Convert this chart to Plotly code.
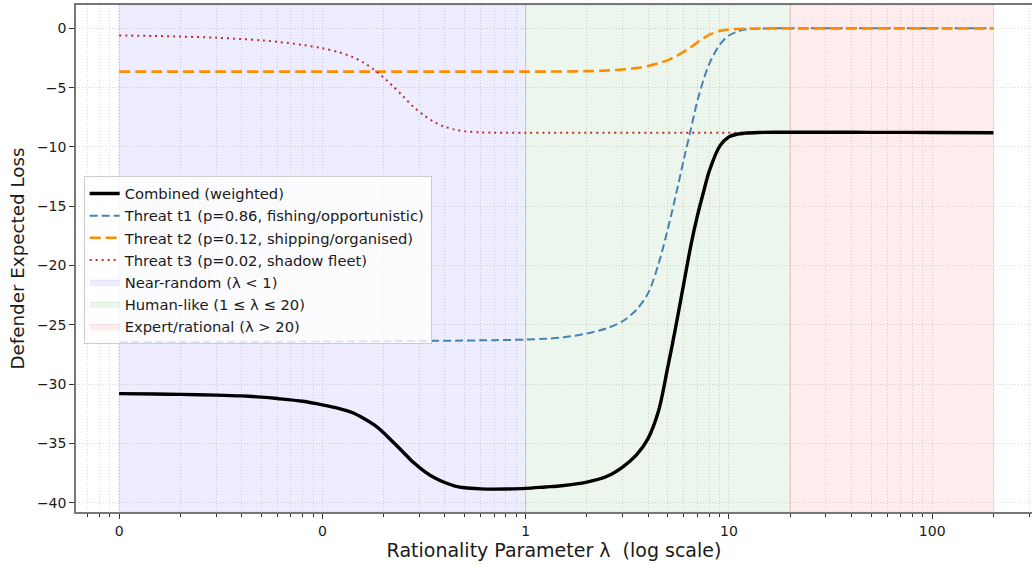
import plotly.graph_objects as go

# Rationality parameter grid (roughly log-spaced sample points)
lam = [0.01, 0.015, 0.02, 0.03, 0.04, 0.05, 0.06, 0.08, 0.1, 0.12,
       0.14, 0.16, 0.18, 0.2, 0.22, 0.25, 0.28, 0.32, 0.36, 0.4,
       0.45, 0.5, 0.6, 0.7, 0.8, 1.0, 1.25, 1.5, 2.0, 2.5,
       3.0, 3.5, 4.0, 4.5, 5.0, 5.5, 6.0, 6.5, 7.0, 7.5,
       8.0, 9.0, 10, 11, 12, 14, 17, 20, 30, 50,
       100, 200]

# Defender expected loss per curve
combined = [-30.81, -30.84, -30.87, -30.93, -31.0, -31.1, -31.22, -31.45, -31.75, -32.05,
            -32.4, -32.9, -33.45, -34.1, -34.8, -35.75, -36.6, -37.4, -37.95, -38.3,
            -38.6, -38.75, -38.84, -38.86, -38.85, -38.8, -38.68, -38.58, -38.27, -37.8,
            -37.0, -36.0, -34.6, -32.3, -28.6, -25.0, -21.5, -18.3, -15.8, -13.8,
            -12.05, -9.95, -9.15, -8.92, -8.84, -8.78, -8.76, -8.76, -8.76, -8.77,
            -8.78, -8.8]
threat_t1 = [-26.45, -26.45, -26.45, -26.44, -26.44, -26.43, -26.43, -26.42, -26.41, -26.4,
             -26.4, -26.39, -26.39, -26.38, -26.38, -26.37, -26.37, -26.36, -26.35, -26.35,
             -26.34, -26.33, -26.31, -26.3, -26.28, -26.25, -26.18, -26.08, -25.74, -25.3,
             -24.7, -23.75, -22.35, -19.9, -16.95, -13.95, -11.05, -8.5, -6.1, -4.35,
             -3.0, -1.4, -0.6, -0.28, -0.1, -0.02, 0.0, 0.0, 0.0, 0.0,
             0.0, 0.0]
threat_t2 = [-3.65, -3.65, -3.65, -3.65, -3.65, -3.65, -3.65, -3.65, -3.65, -3.65,
             -3.65, -3.65, -3.65, -3.65, -3.65, -3.65, -3.65, -3.65, -3.65, -3.65,
             -3.65, -3.65, -3.65, -3.65, -3.65, -3.65, -3.65, -3.64, -3.61, -3.56,
             -3.47, -3.35, -3.18, -2.95, -2.68, -2.35, -1.97, -1.58, -1.18, -0.82,
             -0.55, -0.22, -0.1, -0.05, -0.03, -0.01, 0.0, 0.0, 0.0, 0.0,
             0.0, 0.0]
threat_t3 = [-0.6, -0.64, -0.69, -0.79, -0.9, -1.01, -1.13, -1.4, -1.68, -2.0,
             -2.4, -2.9, -3.5, -4.15, -4.8, -5.75, -6.6, -7.4, -7.95, -8.3,
             -8.55, -8.68, -8.77, -8.8, -8.8, -8.8, -8.8, -8.8, -8.8, -8.8,
             -8.8, -8.8, -8.8, -8.8, -8.8, -8.8, -8.8, -8.8, -8.8, -8.8,
             -8.8, -8.8, -8.8, -8.8, -8.8, -8.8, -8.8, -8.8, -8.8, -8.8,
             -8.8, -8.8]

series_names = ["Combined (weighted)",
                "Threat t1 (p=0.86, fishing/opportunistic)",
                "Threat t2 (p=0.12, shipping/organised)",
                "Threat t3 (p=0.02, shadow fleet)"]

# Behavioural regimes along λ
regime_edges = [0.01, 1, 20, 200]
regime_names = ["Near-random (λ < 1)", "Human-like (1 ≤ λ ≤ 20)", "Expert/rational (λ > 20)"]
regime_fill = ["rgba(0,0,255,0.07)", "rgba(0,128,0,0.07)", "rgba(255,0,0,0.07)"]
regime_edge = ["rgba(0,0,255,0.10)", "rgba(0,128,0,0.10)", "rgba(255,0,0,0.10)"]

x_ticks = [0.01, 0.1, 1, 10, 100]
x_tick_text = ["0", "0", "1", "10", "100"]
x_minor = [m * 10 ** e for e in range(-3, 3) for m in range(2, 10)]
y_ticks = [0, -5, -10, -15, -20, -25, -30, -35, -40]

Y_LO, Y_HI = -40.79, 1.97
FONT = "DejaVu Sans, Verdana, sans-serif"
TXT = "#1a1a1a"

fig = go.Figure()

# Shaded regime bands (drawn first so curves sit on top)
for i, name in enumerate(regime_names):
    a, b = regime_edges[i], regime_edges[i + 1]
    fig.add_trace(go.Scatter(
        x=[a, b, b, a, a], y=[Y_LO, Y_LO, Y_HI, Y_HI, Y_LO],
        mode="lines", fill="toself", fillcolor=regime_fill[i],
        line=dict(color=regime_edge[i], width=1),
        name=name, legendrank=10 + i, hoverinfo="skip",
    ))

line_styles = [
    dict(color="black", width=3.4, dash="solid"),
    dict(color="#4682B4", width=2.0, dash="8px,4px"),
    dict(color="#FF8C00", width=2.6, dash="11px,5px"),
    dict(color="#C0302B", width=2.0, dash="2px,4px"),
]
curves = [combined, threat_t1, threat_t2, threat_t3]
# draw the threat curves, then the combined curve on top
for k in [1, 2, 3, 0]:
    fig.add_trace(go.Scatter(
        x=lam, y=curves[k], mode="lines", name=series_names[k],
        line=dict(shape="spline", smoothing=0.9, **line_styles[k]),
        legendrank=1 + k,
    ))

grid_col = "rgba(185,185,185,0.55)"
fig.update_layout(
    width=1032, height=565,
    margin=dict(l=76, r=0, t=5, b=53),
    paper_bgcolor="white", plot_bgcolor="white",
    font=dict(family=FONT, size=14, color=TXT),
    showlegend=True,
    legend=dict(
        x=0.008, y=0.662, xanchor="left", yanchor="top",
        bgcolor="rgba(255,255,255,0.8)", bordercolor="#cccccc", borderwidth=1,
        font=dict(family=FONT, size=14.75, color=TXT),
        traceorder="normal", itemwidth=30, tracegroupgap=0,
    ),
    xaxis=dict(
        type="log", range=[-2.212, 2.491],
        tickvals=x_ticks, ticktext=x_tick_text,
        ticks="outside", ticklen=5, tickwidth=1, tickcolor="#333",
        showline=True, linecolor="#777", linewidth=1.5, mirror=True,
        showgrid=True, gridcolor=grid_col, griddash="1px,2px", gridwidth=1,
        zeroline=False,
        minor=dict(tickvals=x_minor, ticks="outside", ticklen=3, tickcolor="#333",
                   showgrid=True, gridcolor=grid_col, griddash="1px,2px", gridwidth=1),
        title=dict(text="Rationality Parameter λ\u00a0 (log scale)",
                   font=dict(family=FONT, size=19, color=TXT), standoff=4),
        tickfont=dict(family=FONT, size=14, color=TXT),
    ),
    yaxis=dict(
        range=[Y_LO, Y_HI], tickvals=y_ticks,
        ticks="outside", ticklen=5, tickwidth=1, tickcolor="#333",
        showline=True, linecolor="#777", linewidth=1.5, mirror=False,
        showgrid=True, gridcolor=grid_col, griddash="1px,2px", gridwidth=1,
        zeroline=False,
        title=dict(text="Defender Expected Loss",
                   font=dict(family=FONT, size=18.3, color=TXT), standoff=7),
        tickfont=dict(family=FONT, size=14, color=TXT),
    ),
)

fig.write_html("out.html")
